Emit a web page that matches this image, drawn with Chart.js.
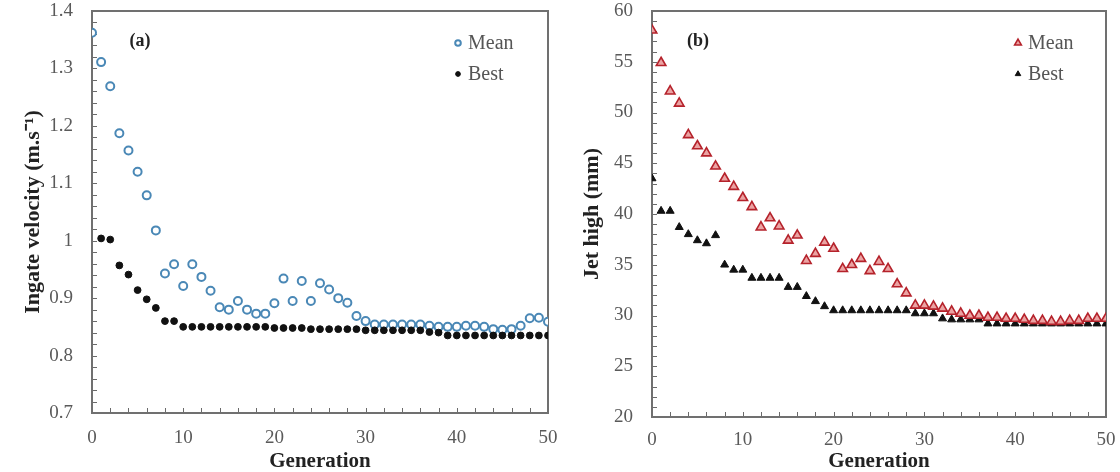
<!DOCTYPE html>
<html>
<head>
<meta charset="utf-8">
<script src="https://cdn.jsdelivr.net/npm/chart.js@4/dist/chart.umd.min.js"></script>
<style>
  html, body { margin: 0; padding: 0; background: #fff; }
  #wrap { position: relative; width: 1120px; height: 472px; }
  .pane { position: absolute; top: 0; width: 560px; height: 472px; }
</style>
</head>
<body>
<div id="wrap">
  <div class="pane" style="left:0"><canvas id="chartA" width="560" height="472"></canvas></div>
  <div class="pane" style="left:560px"><canvas id="chartB" width="560" height="472"></canvas></div>
</div>
<script>
const generations = [0, 1, 2, 3, 4, 5, 6, 7, 8, 9, 10, 11, 12, 13, 14, 15, 16, 17, 18, 19, 20,
  21, 22, 23, 24, 25, 26, 27, 28, 29, 30, 31, 32, 33, 34, 35, 36, 37, 38, 39, 40,
  41, 42, 43, 44, 45, 46, 47, 48, 49, 50];

// (a) ingate velocity, m/s
const velMean = [1.362, 1.311, 1.269, 1.187, 1.157, 1.120, 1.079, 1.018, 0.943, 0.959, 0.921,
  0.959, 0.937, 0.913, 0.884, 0.880, 0.895, 0.880, 0.873, 0.873, 0.891,
  0.934, 0.895, 0.930, 0.895, 0.926, 0.915, 0.900, 0.892, 0.869, 0.860,
  0.854, 0.854, 0.854, 0.854, 0.854, 0.854, 0.852, 0.850, 0.850, 0.850,
  0.852, 0.852, 0.850, 0.846, 0.845, 0.846, 0.852, 0.865, 0.866, 0.859];
const velBest = [null, 1.004, 1.002, 0.957, 0.941, 0.914, 0.898, 0.883, 0.860, 0.860, 0.850,
  0.850, 0.850, 0.850, 0.850, 0.850, 0.850, 0.850, 0.850, 0.850, 0.848,
  0.848, 0.848, 0.848, 0.846, 0.846, 0.846, 0.846, 0.846, 0.846, 0.844,
  0.844, 0.844, 0.844, 0.844, 0.844, 0.844, 0.841, 0.840, 0.835, 0.835,
  0.835, 0.835, 0.835, 0.835, 0.835, 0.835, 0.835, 0.835, 0.835, 0.835];

// (b) jet high, mm
const jetMean = [58.1, 54.9, 52.1, 50.9, 47.8, 46.7, 46.0, 44.7, 43.5, 42.7, 41.6,
  40.7, 38.7, 39.6, 38.8, 37.4, 37.9, 35.4, 36.1, 37.2, 36.6,
  34.6, 35.0, 35.6, 34.4, 35.3, 34.6, 33.1, 32.2, 31.0, 31.0,
  30.9, 30.7, 30.4, 30.2, 30.0, 30.0, 29.8, 29.8, 29.7, 29.7,
  29.6, 29.5, 29.5, 29.4, 29.4, 29.5, 29.5, 29.7, 29.7, 29.7];
const jetBest = [43.5, 40.3, 40.3, 38.7, 38.0, 37.4, 37.1, 37.9, 35.0, 34.5, 34.5,
  33.7, 33.7, 33.7, 33.7, 32.8, 32.8, 31.9, 31.4, 30.9, 30.5,
  30.5, 30.5, 30.5, 30.5, 30.5, 30.5, 30.5, 30.5, 30.2, 30.2,
  30.2, 29.7, 29.6, 29.6, 29.6, 29.6, 29.2, 29.2, 29.2, 29.2,
  29.2, 29.2, 29.2, 29.2, 29.2, 29.2, 29.2, 29.2, 29.2, 29.2];

const xTicks = [0, 10, 20, 30, 40, 50];
const velTicks = [0.7, 0.8, 0.9, 1, 1.1, 1.2, 1.3, 1.4];
const jetTicks = [20, 25, 30, 35, 40, 45, 50, 55, 60];

const SERIF = '"Liberation Serif", "Times New Roman", serif';

const toPoints = (ys) => generations.map((g, i) => ({ x: g, y: ys[i] }));

// border box, inward tick marks, panel tag and a small legend in the corner
const framePlugin = {
  id: 'frame',
  beforeDatasetsDraw(chart, args, o) {
    const { ctx, chartArea: a, scales: { x, y } } = chart;
    ctx.save();
    ctx.strokeStyle = '#6a6a6a';
    ctx.lineWidth = 1;
    for (let v = x.min; v <= x.max + 1e-9; v += o.minorX) {
      const px = Math.round(x.getPixelForValue(v)) + 0.5;
      ctx.beginPath();
      ctx.moveTo(px, a.bottom);
      ctx.lineTo(px, a.bottom - 5);
      ctx.stroke();
    }
    for (let v = y.min; v <= y.max + 1e-9; v += o.minorY) {
      const py = Math.round(y.getPixelForValue(v)) + 0.5;
      ctx.beginPath();
      ctx.moveTo(a.left, py);
      ctx.lineTo(a.left + 5, py);
      ctx.stroke();
    }
    ctx.lineWidth = 2;
    ctx.strokeStyle = '#707070';
    ctx.strokeRect(a.left, a.top, a.right - a.left, a.bottom - a.top);
    ctx.restore();
  },
  afterDatasetsDraw(chart, args, o) {
    const { ctx, chartArea: a } = chart;
    ctx.save();
    ctx.fillStyle = '#222';
    ctx.font = 'bold 18px ' + SERIF;
    ctx.textAlign = 'center';
    ctx.textBaseline = 'middle';
    ctx.fillText(o.tag, a.left + o.tagX, a.top + 30);

    ctx.textAlign = 'left';
    ctx.font = '20px ' + SERIF;
    chart.data.datasets.forEach((ds, i) => {
      const lx = a.right - o.legendX;
      const ly = a.top + 32 + i * 31;
      ctx.fillStyle = ds.pointBackgroundColor;
      ctx.strokeStyle = ds.pointBorderColor;
      ctx.lineWidth = ds.pointBorderWidth;
      Chart.helpers.drawPoint(ctx, {
        pointStyle: ds.pointStyle,
        radius: ds.pointRadius * 0.7,
        borderWidth: ds.pointBorderWidth,
        rotation: 0
      }, lx, ly);
      ctx.fillStyle = '#555';
      ctx.fillText(ds.label, lx + 10, ly + 1);
    });
    ctx.restore();
  }
};

function makeChart(id, p) {
  return new Chart(document.getElementById(id), {
    type: 'scatter',
    data: { datasets: p.datasets },
    plugins: [framePlugin],
    options: {
      responsive: false,
      animation: false,
      devicePixelRatio: 1,
      layout: { padding: { top: 11, right: p.padRight, left: 0, bottom: 0 } },
      plugins: {
        legend: { display: false },
        tooltip: { enabled: false },
        frame: p.frame
      },
      scales: {
        x: {
          type: 'linear',
          min: 0,
          max: 50,
          afterBuildTicks: (s) => { s.ticks = xTicks.map(v => ({ value: v })); },
          afterFit: (s) => { s.height = p.xHeight; s.paddingLeft = 0; s.paddingRight = 0; },
          grid: { display: false, drawTicks: false },
          border: { display: false },
          ticks: { autoSkip: false, maxRotation: 0, padding: p.xTickPad, color: '#5a5a5a',
                   font: { family: SERIF, size: 19 } },
          title: { display: true, text: 'Generation', color: '#222',
                   padding: { top: 0, bottom: 0 },
                   font: { family: SERIF, size: 21, weight: 'bold', lineHeight: 0.95 } }
        },
        y: {
          min: p.yMin,
          max: p.yMax,
          afterBuildTicks: (s) => { s.ticks = p.yTicks.map(v => ({ value: v })); },
          afterFit: (s) => { s.width = 92; s.paddingTop = 0; s.paddingBottom = 0; },
          grid: { display: false, drawTicks: false },
          border: { display: false },
          ticks: { autoSkip: false, padding: 19, color: '#5a5a5a',
                   font: { family: SERIF, size: 19 },
                   callback: (v) => String(v) },
          title: { display: true, text: p.yTitle, color: '#222',
                   padding: { top: p.yTitlePad, bottom: 0 },
                   font: { family: SERIF, size: 22, weight: 'bold', lineHeight: 1.2 } }
        }
      }
    }
  });
}

makeChart('chartA', {
  padRight: 12,
  xHeight: 59,
  xTickPad: 14,
  yMin: 0.7,
  yMax: 1.4,
  yTicks: velTicks,
  yTitle: 'Ingate velocity (m.s\u207B\u00B9)',
  yTitlePad: 20,
  frame: { minorX: 2, minorY: 0.02, tag: '(a)', tagX: 48, legendX: 90 },
  datasets: [
    { label: 'Mean', data: toPoints(velMean), order: 1,
      pointStyle: 'circle', pointRadius: 4, pointBorderWidth: 2,
      pointBackgroundColor: '#ffffff', pointBorderColor: '#4a88b6', showLine: false },
    { label: 'Best', data: toPoints(velBest), order: 0,
      pointStyle: 'circle', pointRadius: 3.4, pointBorderWidth: 1,
      pointBackgroundColor: '#111111', pointBorderColor: '#111111', showLine: false }
  ]
});

makeChart('chartB', {
  padRight: 14,
  xHeight: 55,
  xTickPad: 12,
  yMin: 20,
  yMax: 60,
  yTicks: jetTicks,
  yTitle: 'Jet high (mm)',
  yTitlePad: 19,
  frame: { minorX: 2, minorY: 1, tag: '(b)', tagX: 46, legendX: 88 },
  datasets: [
    { label: 'Mean', data: toPoints(jetMean), order: 0,
      pointStyle: 'triangle', pointRadius: 5.5, pointBorderWidth: 1.6,
      pointBackgroundColor: '#eba3a3', pointBorderColor: '#b5222b', showLine: false },
    { label: 'Best', data: toPoints(jetBest), order: 1,
      pointStyle: 'triangle', pointRadius: 4.6, pointBorderWidth: 1,
      pointBackgroundColor: '#111111', pointBorderColor: '#111111', showLine: false }
  ]
});
</script>
</body>
</html>
